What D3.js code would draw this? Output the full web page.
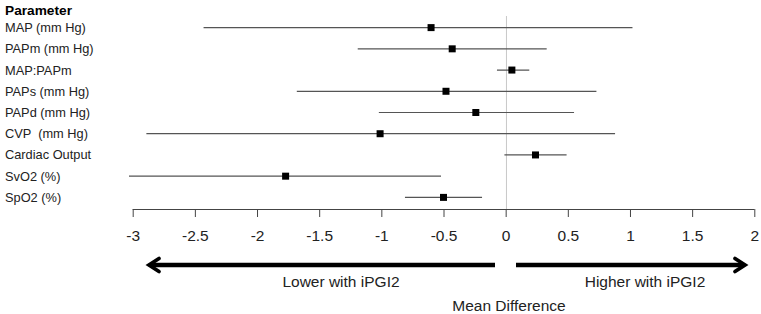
<!DOCTYPE html>
<html>
<head>
<meta charset="utf-8">
<script src="https://cdn.jsdelivr.net/npm/d3@7"></script>
<style>
  body { margin: 0; background: #fff; }
  svg { display: block; font-family: "Liberation Sans", Arial, sans-serif; }
</style>
</head>
<body>
<div id="chart"></div>
<script>
  const width = 761;
  const height = 314;

  // data
  const params = ["MAP (mm Hg)", "PAPm (mm Hg)", "MAP:PAPm", "PAPs (mm Hg)", "PAPd (mm Hg)",
                  "CVP  (mm Hg)", "Cardiac Output", "SvO2 (%)", "SpO2 (%)"];
  const meanDiff = [-0.60, -0.43, 0.05, -0.48, -0.24, -1.01, 0.24, -1.77, -0.50];
  const lower    = [-2.43, -1.19, -0.07, -1.68, -1.02, -2.89, -0.01, -3.03, -0.81];
  const upper    = [1.02, 0.33, 0.19, 0.73, 0.55, 0.88, 0.49, -0.52, -0.19];
  const ticks = [-3, -2.5, -2, -1.5, -1, -0.5, 0, 0.5, 1, 1.5, 2];

  const svg = d3.select("#chart").append("svg")
    .attr("width", width)
    .attr("height", height);

  const x = d3.scaleLinear().domain([-3, 2]).range([132.7, 754.3]);
  const y = d3.scaleBand().domain(params).range([17, 208]);
  const yc = d => y(d) + y.bandwidth() / 2;

  const axisY = 209;

  // zero reference line
  svg.append("line")
    .attr("x1", x(0) + 0.8).attr("x2", x(0) + 0.8)
    .attr("y1", 16).attr("y2", axisY)
    .attr("stroke", "#c8c8c8")
    .attr("stroke-width", 1);

  // header
  svg.append("text")
    .attr("x", 5).attr("y", 15)
    .attr("font-size", 13.7)
    .attr("font-weight", "bold")
    .text("Parameter");

  // row labels
  svg.append("g").selectAll("text")
    .data(params)
    .enter().append("text")
    .attr("x", 5)
    .attr("y", d => yc(d) + 4.5)
    .attr("font-size", 12.8)
    .attr("fill", "#222")
    .style("white-space", "pre")
    .text(d => d);

  // CI lines
  svg.append("g").selectAll("line")
    .data(params)
    .enter().append("line")
    .attr("x1", (d, i) => x(lower[i]))
    .attr("x2", (d, i) => x(upper[i]))
    .attr("y1", d => yc(d))
    .attr("y2", d => yc(d))
    .attr("stroke", "#555")
    .attr("stroke-width", 1.2);

  // point estimates
  svg.append("g").selectAll("rect")
    .data(params)
    .enter().append("rect")
    .attr("x", (d, i) => x(meanDiff[i]) - 3.5)
    .attr("y", d => yc(d) - 3.5)
    .attr("width", 7)
    .attr("height", 7)
    .attr("fill", "#000");

  // x axis
  const axis = d3.axisBottom(x)
    .tickValues(ticks)
    .tickSize(8)
    .tickPadding(13)
    .tickFormat(d3.format("~g"));

  const gx = svg.append("g")
    .attr("transform", `translate(0,${axisY})`)
    .call(axis);
  gx.select(".domain").attr("stroke", "#444").attr("d", `M${x(-3)},0.5H${x(2)}`);
  gx.selectAll(".tick line").attr("stroke", "#444");
  gx.selectAll(".tick text")
    .attr("font-size", 15.5)
    .attr("font-family", "Liberation Sans, Arial, sans-serif")
    .attr("fill", "#222")
    .text(d => d3.format("~g")(d).replace("−", "-"));

  // direction arrows
  const arrowY = 265;
  const arrows = [
    { from: 495, to: 149 },
    { from: 516, to: 745 }
  ];
  arrows.forEach(a => {
    const dir = a.to > a.from ? 1 : -1;
    svg.append("line")
      .attr("x1", a.from).attr("x2", a.to - dir * 2)
      .attr("y1", arrowY).attr("y2", arrowY)
      .attr("stroke", "#000")
      .attr("stroke-width", 4.5);
    svg.append("path")
      .attr("d", `M${a.to - dir * 10},${arrowY - 6.5}L${a.to},${arrowY}L${a.to - dir * 10},${arrowY + 6.5}`)
      .attr("fill", "none")
      .attr("stroke", "#000")
      .attr("stroke-width", 3.8)
      .attr("stroke-linecap", "round")
      .attr("stroke-linejoin", "miter");
  });

  svg.append("text")
    .attr("x", 341).attr("y", 287)
    .attr("text-anchor", "middle")
    .attr("font-size", 15.5)
    .attr("fill", "#222")
    .text("Lower with iPGI2");

  svg.append("text")
    .attr("x", 645).attr("y", 287)
    .attr("text-anchor", "middle")
    .attr("font-size", 15.5)
    .attr("fill", "#222")
    .text("Higher with iPGI2");

  svg.append("text")
    .attr("x", 509).attr("y", 311)
    .attr("text-anchor", "middle")
    .attr("font-size", 15.5)
    .attr("fill", "#222")
    .text("Mean Difference");
</script>
</body>
</html>
